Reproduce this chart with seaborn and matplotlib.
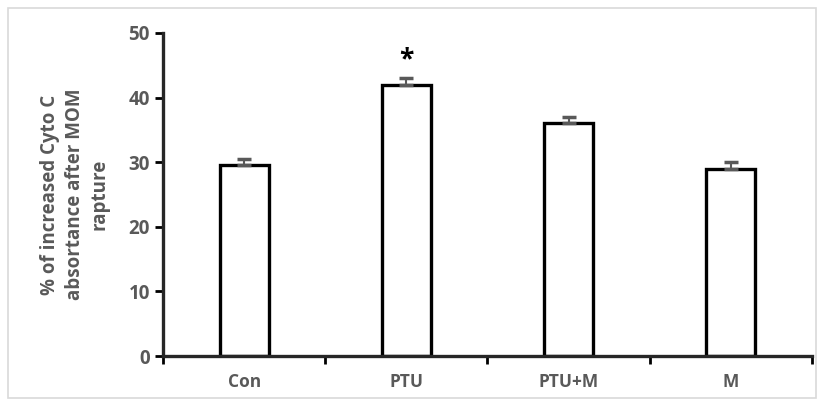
import numpy as np
import pandas as pd
import matplotlib
matplotlib.use("Agg")
import matplotlib.pyplot as plt
from matplotlib.patches import Rectangle
import seaborn as sns

groups = ["Con", "PTU", "PTU+M", "M"]
values = [29.5, 42.0, 36.0, 29.0]
errors = [1.0, 1.0, 1.0, 1.0]
marks = ["", "*", "", ""]

sns.set_style("white")
plt.rcParams["font.family"] = ["Open Sans", "DejaVu Sans"]
grey = "#595959"

df = pd.DataFrame({"group": groups, "value": values})

fig = plt.figure(figsize=(8.2, 4.0), dpi=100)
ax = fig.add_axes([0.199, 0.11, 0.791, 0.8075])

sns.barplot(data=df, x="group", y="value", color="white", edgecolor="black",
            linewidth=2.4, width=0.3, errorbar=None, ax=ax)

x = np.arange(len(groups))
ax.errorbar(x, values, yerr=[np.zeros(len(errors)), errors], fmt="none",
            ecolor=grey, elinewidth=1.5, capsize=5, capthick=2.5, zorder=1)

for xi, v, e, m in zip(x, values, errors, marks):
    if m:
        ax.text(xi, v + e + 0.8, m, ha="center", va="bottom", fontsize=19,
                fontweight="bold", color="black")

ax.set_ylim(0, 50)
ax.set_xlim(-0.5, len(groups) - 0.5)
ax.set_yticks(range(0, 51, 10))
ax.set_xticks(np.arange(-0.5, len(groups)), minor=True)
ax.tick_params(axis="x", which="major", length=0, pad=12)
ax.tick_params(axis="x", which="minor", length=6, width=2, direction="out", color="black")
ax.tick_params(axis="y", length=6, width=2, direction="out", color="black")
ax.yaxis.set_tick_params(left=True)
ax.xaxis.set_tick_params(which="minor", bottom=True)
for lab in ax.get_xticklabels():
    lab.set_fontweight("bold")
    lab.set_color(grey)
    lab.set_fontsize(12.5)
for lab in ax.get_yticklabels():
    lab.set_fontweight("bold")
    lab.set_color(grey)
    lab.set_fontsize(13.5)

sns.despine(ax=ax)
ax.spines["left"].set_linewidth(2.4)
ax.spines["bottom"].set_linewidth(2.4)
ax.set_xlabel("")
ax.set_ylabel("% of increased Cyto C\nabsortance after MOM\nrapture", fontsize=13.5,
              fontweight="bold", color=grey, labelpad=14, linespacing=1.3)

fig.patches.append(Rectangle((0.01, 0.005), 0.985, 0.975, transform=fig.transFigure,
                             fill=False, edgecolor="#d9d9d9", linewidth=1.2))

fig.savefig("out.png", dpi=100)
